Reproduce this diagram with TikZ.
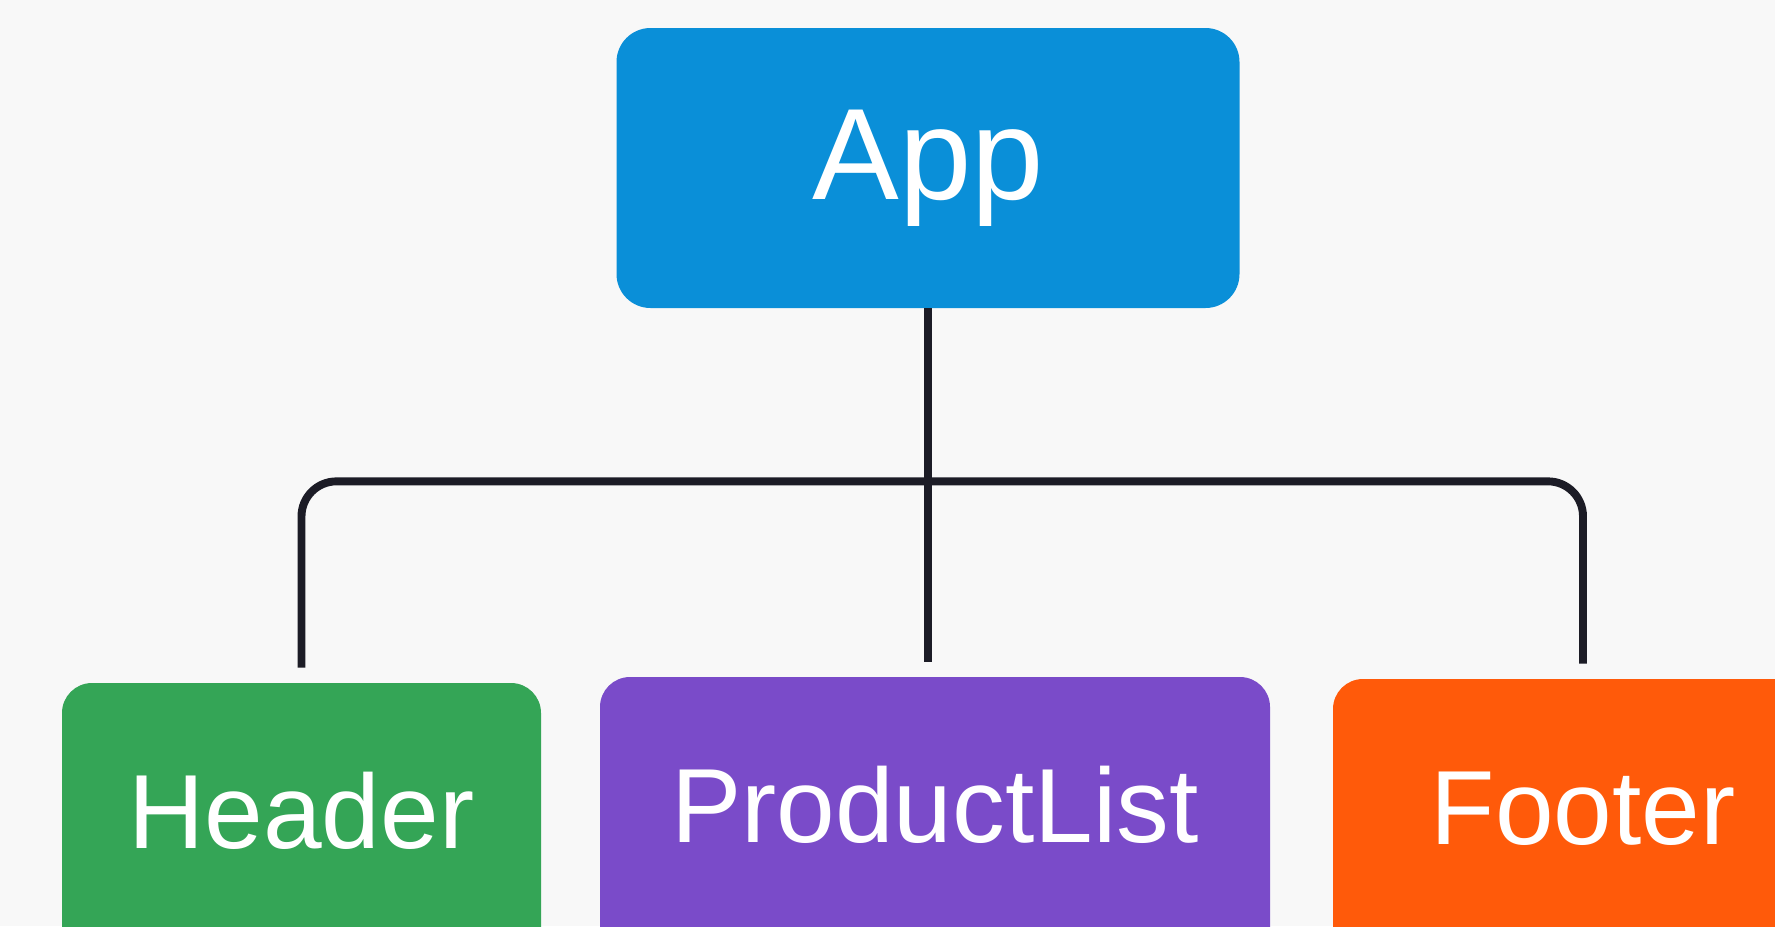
\documentclass[tikz,border=0pt]{standalone}
\usepackage{fontspec}
\setmainfont{Liberation Sans}
\usetikzlibrary{positioning}

\definecolor{appblue}{HTML}{0A8FD8}
\definecolor{headgreen}{HTML}{34A556}
\definecolor{prodpurple}{HTML}{7A4BC9}
\definecolor{footorange}{HTML}{FF5A0A}
\definecolor{wire}{HTML}{1C1C26}
\definecolor{paper}{HTML}{F8F8F8}

\tikzset{
  comp/.style={rounded corners=0.6cm, text=white, inner sep=0pt,
    minimum height=5.8cm, text height=1.6cm, text depth=0.8cm,
    font=\fontsize{60}{66}\selectfont},
  conn/.style={draw=wire, line width=4.5pt}
}

\begin{document}
\begin{tikzpicture}

% Fond
\fill[paper] (0,0) rectangle (35.5,-18.52);
\useasboundingbox (0,0) rectangle (35.5,-18.52);

% Racine
\node[fill=appblue, text=white, inner sep=0pt, minimum width=12.46cm,
  minimum height=5.6cm, rounded corners=0.68cm, font=\fontsize{74}{80}\selectfont]
  (app) at (18.56,-3.36) {App};

% Enfants
\node[comp, fill=headgreen, minimum width=9.58cm] (head) at (6.03,-16.56) {Header};
\node[comp, fill=prodpurple, minimum width=13.4cm] (prod) at (18.7,-16.44) {ProductList};
\node[comp, fill=footorange, minimum width=10cm] (foot) at (31.66,-16.48) {Footer};

% Liens
\coordinate[below=3.46cm of app.south] (bus);
\draw[conn, shorten >=0.3cm] (app.south) -- (bus) -- (bus |- prod.north);
\draw[conn, rounded corners=0.7cm, shorten <=0.3cm, shorten >=0.3cm]
  (head.north) |- (bus) -| (foot.north);

\end{tikzpicture}
\end{document}
